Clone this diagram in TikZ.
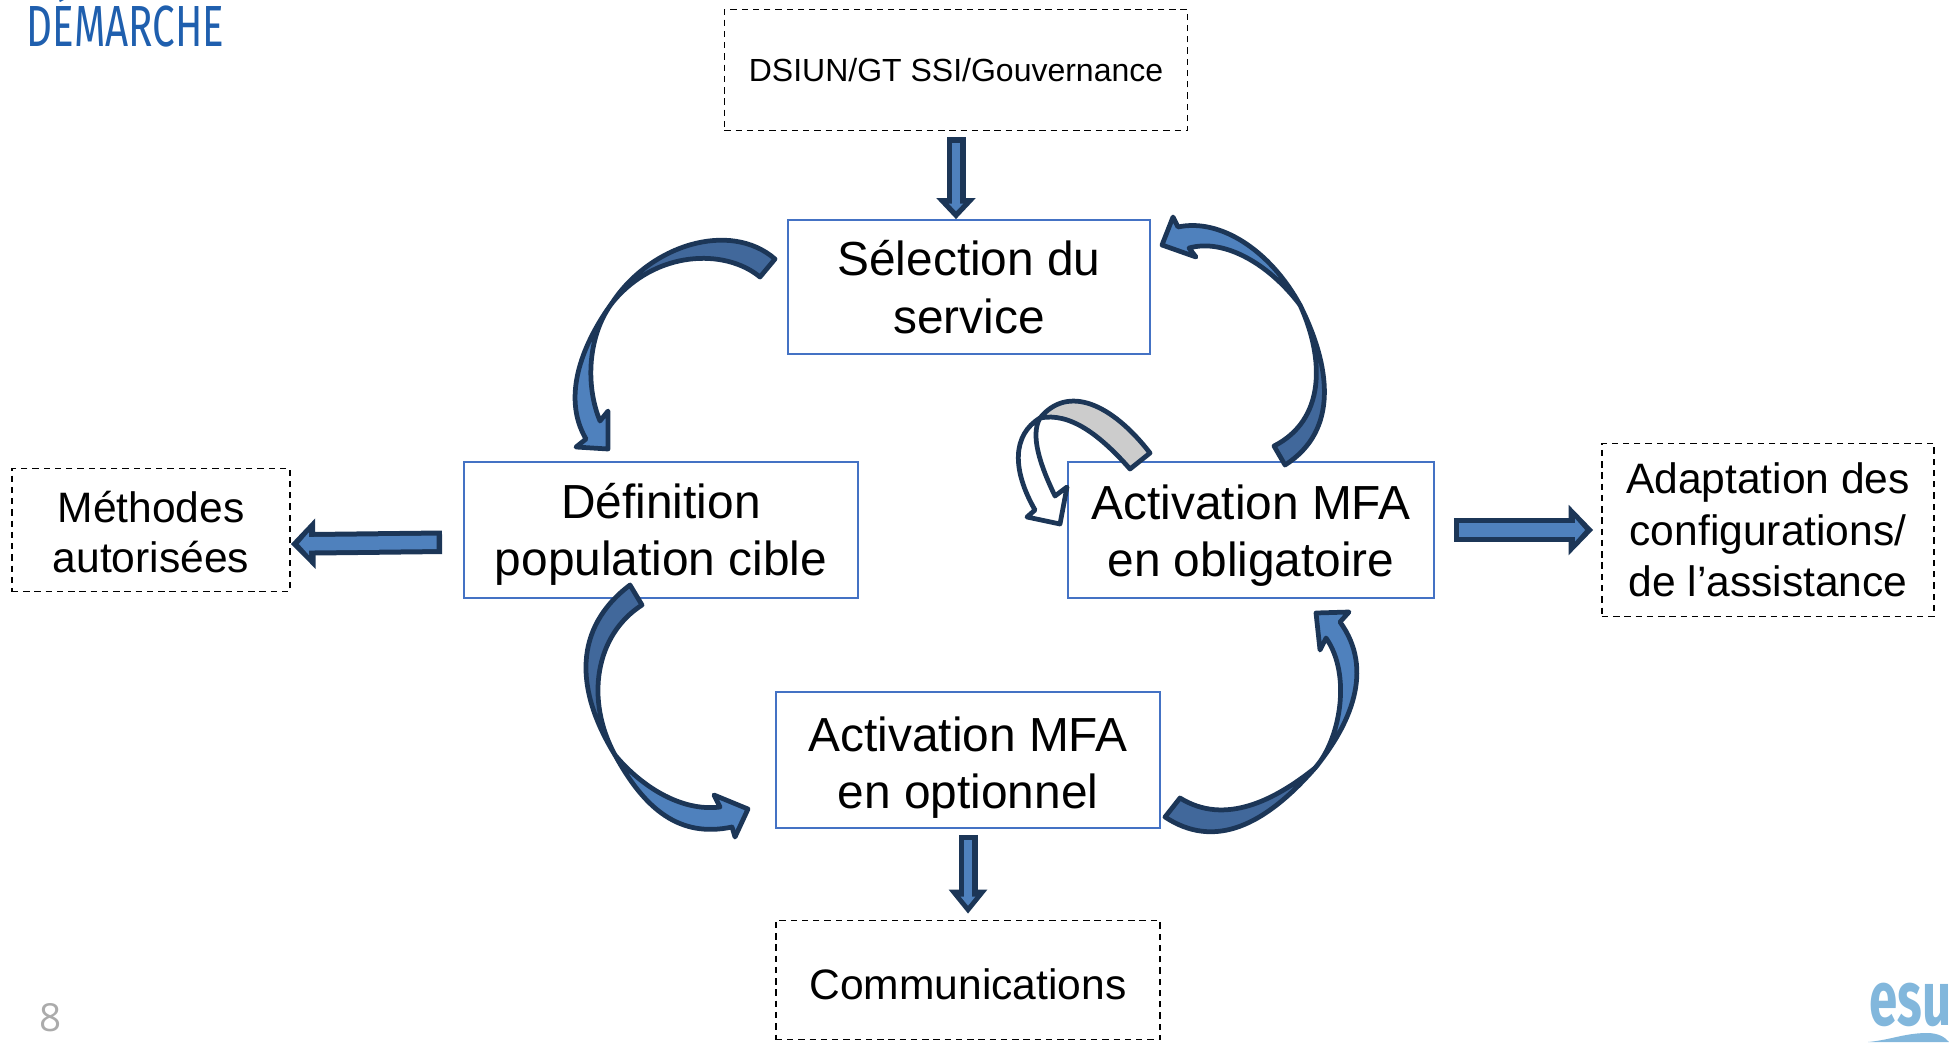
\documentclass[tikz,border=0pt]{standalone}
\usepackage{fontspec}
\setmainfont{Liberation Sans}
\newfontfamily\titlefont{Fira Sans}
\newfontfamily\pagefont{Open Sans}
\usetikzlibrary{arrows.meta}
\definecolor{boxblue}{HTML}{4472C4}
\definecolor{titleblue}{HTML}{1F5FAE}
\definecolor{arrowline}{HTML}{1C3657}
\definecolor{arrowdark}{HTML}{41689B}
\definecolor{arrowlight}{HTML}{4F81BD}
\definecolor{foldgray}{HTML}{CCCCCC}
\definecolor{logoblue}{HTML}{82B7DC}
\newcommand{\dropline}[1]{\rule{0pt}{#1}}
\tikzset{
  stepbox/.style={draw=boxblue,line width=0.45pt,fill=white,align=center,inner sep=0pt,font=\fontsize{13.6}{16.3}\selectfont},
  sidebox/.style={draw=black,line width=0.45pt,dash pattern=on 1.8pt off 1.4pt,align=center,inner sep=0pt,font=\fontsize{12.1}{14.6}\selectfont},
  bandtail/.style={fill=arrowdark,draw=arrowline,line width=1.35pt,line join=round},
  bandhead/.style={fill=arrowlight,draw=arrowline,line width=1.35pt,line join=round},
  % gap start, gap end, shaft, core, head width, head length, core head width, core head length
  blockarrow/.style n args={8}{
    preaction={draw=arrowline,line width=#3,shorten <=#1,shorten >=#2,-{Triangle[length=#6,width=#5]}},
    draw=arrowlight,line width=#4,shorten <=#1+0.055cm,shorten >=#2+0.08cm,-{Triangle[length=#8,width=#7]}},
  thinblock/.style 2 args={blockarrow={#1}{#2}{.19cm}{.08cm}{.38cm}{.21cm}{.14cm}{.075cm}},
  longblock/.style 2 args={blockarrow={#1}{#2}{.19cm}{.08cm}{.37cm}{.24cm}{.14cm}{.09cm}},
  wideblock/.style 2 args={blockarrow={#1}{#2}{.235cm}{.135cm}{.49cm}{.245cm}{.22cm}{.10cm}}
}
\begin{document}
\begin{tikzpicture}[x=0.01cm,y=-0.01cm]
\useasboundingbox (0,0) rectangle (1949,1042);
\clip (0,0) rectangle (1949,1042);
\node[anchor=base west,inner sep=0pt,text=titleblue,xscale=0.695,font=\titlefont\fontsize{16.5}{19}\selectfont] (title) at (26,46) {DÉMARCHE};
\node[text=black!33,inner sep=0pt,font=\pagefont\fontsize{11}{13}\selectfont] (pagenum) at (51,1018) {8};
% boxes
\node[stepbox,minimum width=3.62cm,minimum height=1.34cm] (selection) at (969,287) {Sélection du\\service};
\node[stepbox,minimum width=3.94cm,minimum height=1.36cm] (definition) at (661,530) {\dropline{12.3pt}Définition\\population cible};
\node[stepbox,minimum width=3.66cm,minimum height=1.36cm] (obligatoire) at (1251,530) {\dropline{13.2pt}Activation MFA\\en obligatoire};
\node[stepbox,minimum width=3.84cm,minimum height=1.36cm] (optionnel) at (968,760) {\dropline{14pt}Activation MFA\\en optionnel};
\node[sidebox,minimum width=4.63cm,minimum height=1.21cm,font=\fontsize{9.1}{11}\selectfont] (dsiun) at (956,70) {DSIUN/GT SSI/Gouvernance};
\node[sidebox,minimum width=2.78cm,minimum height=1.23cm,font=\fontsize{12.1}{14.2}\selectfont] (methodes) at (151,530) {\dropline{9.8pt}Méthodes\\autorisées};
\node[sidebox,minimum width=3.32cm,minimum height=1.73cm] (adaptation) at (1768,530) {Adaptation des\\configurations/\\de l’assistance};
\node[sidebox,minimum width=3.84cm,minimum height=1.19cm] (communications) at (968,980) {\dropline{11pt}Communications};
% straight arrows
\draw[thinblock={.06cm}{0cm}] (dsiun.south) -- (dsiun.south |- selection.north);
\draw[longblock={.06cm}{.06cm}] (optionnel.south) -- (communications.north);
\draw[wideblock={.21cm}{0cm}] ([yshift=-.12cm]definition.west) -- ([yshift=-.14cm]methodes.east);
\draw[wideblock={.19cm}{.08cm}] (obligatoire.east) -- (adaptation.west);
% selection to definition
\draw[bandtail] (612,303) .. controls (650,245) and (730,220) .. (775,259) -- (760,277) .. controls (725,248) and (655,250) .. cycle;
\draw[bandhead] (612,303) .. controls (585,340) and (560,395) .. (586,439) -- (576,447) -- (608,449) -- (608,411) -- (600,421) .. controls (585,385) and (588,335) .. cycle;
% obligatoire to selection
\draw[bandhead] (1300,305) .. controls (1270,250) and (1220,218) .. (1178,227) -- (1173,217) -- (1162,245) -- (1196,257) -- (1189,248) .. controls (1225,238) and (1270,265) .. cycle;
\draw[bandtail] (1300,305) .. controls (1330,365) and (1340,430) .. (1285,465) -- (1274,446) .. controls (1325,420) and (1325,360) .. cycle;
% definition to optionnel
\draw[bandtail] (615,755) .. controls (575,690) and (573,628) .. (630,585) -- (642,605) .. controls (595,635) and (585,700) .. cycle;
\draw[bandhead] (615,755) .. controls (645,810) and (680,838) .. (732,827) -- (735,837) -- (748,809) -- (714,795) -- (720,807) .. controls (680,812) and (640,785) .. cycle;
% optionnel to obligatoire
\draw[bandtail] (1315,768) .. controls (1265,825) and (1215,850) .. (1165,817) -- (1180,798) .. controls (1225,826) and (1275,800) .. cycle;
\draw[bandhead] (1315,768) .. controls (1350,725) and (1375,670) .. (1340,622) -- (1349,612) -- (1316,613) -- (1320,650) -- (1326,638) .. controls (1352,675) and (1340,740) .. cycle;
% loop on obligatoire
\draw[bandtail,fill=foldgray] (1040,418) .. controls (1068,384) and (1112,404) .. (1150,453) -- (1130,469) .. controls (1100,435) and (1070,412) .. cycle;
\draw[bandhead,fill=white] (1040,418) .. controls (1012,435) and (1012,470) .. (1035,510) -- (1027,517) -- (1060,524) -- (1067,487) -- (1055,496) .. controls (1040,465) and (1030,435) .. cycle;
% logo corner
\node[anchor=base west,inner sep=0pt,text=logoblue,xscale=0.66,font=\titlefont\bfseries\fontsize{22}{24}\selectfont] (logo) at (1869,1025) {esu};
\fill[logoblue] (1868,1042) .. controls (1890,1040) and (1905,1033) .. (1927,1033) .. controls (1938,1033) and (1945,1037) .. (1949,1042) -- cycle;
\end{tikzpicture}
\end{document}
